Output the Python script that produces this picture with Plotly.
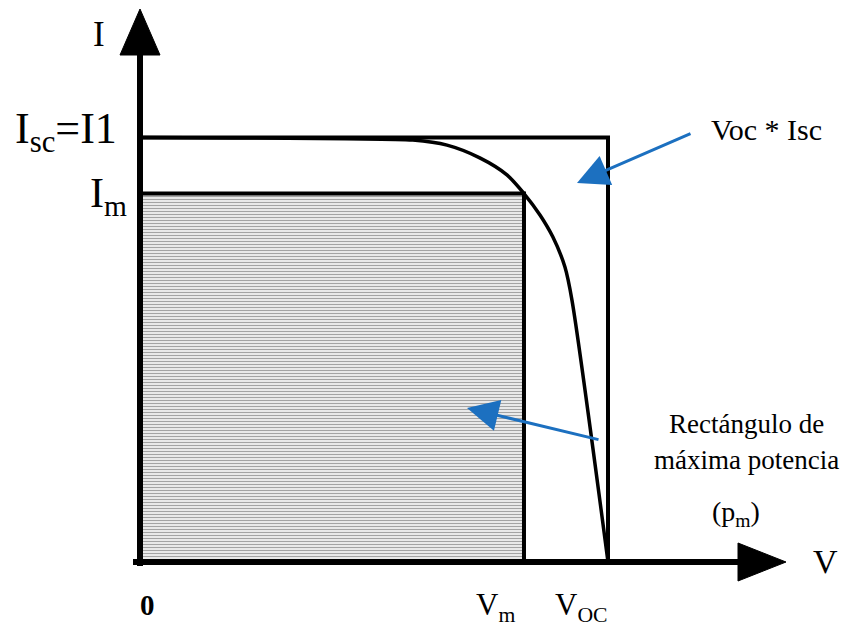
import plotly.graph_objects as go

# Normalised I-V characteristic of a solar cell
V_OC = 1.0
I_SC = 1.0
V_M = 0.8205
I_M = 0.868

v_curve = [0.0, 0.200, 0.440, 0.583, 0.656, 0.726, 0.784, 0.8205, 0.855, 0.882, 0.908, 0.923, 1.0]
i_curve = [1.0, 0.999, 0.997, 0.994, 0.982, 0.952, 0.912, 0.868, 0.817, 0.766, 0.695, 0.617, 0.0]

tick_labels_x = ["0", "V<sub>m</sub>", "V<sub>OC</sub>"]
tick_labels_y = ["I<sub>sc</sub>=I1", "I<sub>m</sub>"]

SERIF = "Liberation Serif, Times New Roman, serif"
BLUE = "#1c70c0"

# pixel scale of the drawing: px per unit along V and I
SX, SY = 468.0, 424.5
X0, Y0 = 140.0, 562.0
W, H = 855, 627


def vx(px):
    return (px - X0) / SX


def iy(py):
    return (Y0 - py) / SY


fig = go.Figure()

# maximum-power rectangle, hatched with horizontal lines
fig.add_trace(go.Scatter(
    x=[0, V_M, V_M, 0, 0], y=[0, 0, I_M, I_M, 0],
    mode="lines", fill="toself", line=dict(color="black", width=4),
    fillcolor="white",
    fillpattern=dict(shape="-", size=3, solidity=0.5, fgcolor="#4a4a4a", bgcolor="white"),
    hoverinfo="skip", showlegend=False,
))

# Voc x Isc rectangle (top and right edges)
fig.add_trace(go.Scatter(
    x=[0, V_OC, V_OC], y=[I_SC, I_SC, 0],
    mode="lines", line=dict(color="black", width=4),
    hoverinfo="skip", showlegend=False,
))

# I-V curve
fig.add_trace(go.Scatter(
    x=v_curve, y=i_curve, mode="lines",
    line=dict(color="black", width=3.5, shape="spline", smoothing=0.8),
    hoverinfo="skip", showlegend=False,
))

# axes with arrowheads
shapes = [
    dict(type="line", x0=0, y0=iy(566), x1=0, y1=iy(52), line=dict(color="black", width=6)),
    dict(type="line", x0=vx(133), y0=0, x1=vx(742), y1=0, line=dict(color="black", width=6)),
    dict(type="path",
         path=f"M {vx(X0 - 20)},{iy(55)} L {vx(X0)},{iy(9)} L {vx(X0 + 20)},{iy(55)} Z",
         fillcolor="black", line=dict(color="black", width=1)),
    dict(type="path",
         path=f"M {vx(738)},{iy(Y0 - 19)} L {vx(786)},{iy(Y0)} L {vx(738)},{iy(Y0 + 19)} Z",
         fillcolor="black", line=dict(color="black", width=1)),
]
for s in shapes:
    s.update(xref="x", yref="y", layer="above")

annotations = [
    # axis names
    dict(x=vx(99), y=iy(34), text="I", font=dict(size=35)),
    dict(x=vx(825), y=iy(561), text="V", font=dict(size=34)),
    # current levels
    dict(x=vx(119), y=iy(131), text=tick_labels_y[0], font=dict(size=44), xanchor="right"),
    dict(x=vx(129), y=iy(196), text=tick_labels_y[1], font=dict(size=42), xanchor="right"),
    # voltage levels
    dict(x=vx(147), y=iy(605), text="<b>" + tick_labels_x[0] + "</b>", font=dict(size=29)),
    dict(x=vx(495), y=iy(607), text=tick_labels_x[1], font=dict(size=31)),
    dict(x=vx(581), y=iy(607), text=tick_labels_x[2], font=dict(size=31)),
    # region labels
    dict(x=vx(766), y=iy(129), text="Voc * Isc", font=dict(size=30)),
    dict(x=vx(746), y=iy(424), text="Rectángulo de", font=dict(size=27)),
    dict(x=vx(746), y=iy(460), text="máxima potencia", font=dict(size=27)),
    dict(x=vx(736), y=iy(513), text="(p<sub>m</sub>)", font=dict(size=28)),
    # blue pointers
    dict(x=vx(577), y=iy(183), ax=vx(692), ay=iy(133), axref="x", ayref="y", text="",
         showarrow=True, arrowhead=2, arrowsize=2.1, arrowwidth=3, arrowcolor=BLUE),
    dict(x=vx(467), y=iy(408), ax=vx(600), ay=iy(440), axref="x", ayref="y", text="",
         showarrow=True, arrowhead=2, arrowsize=2.1, arrowwidth=3, arrowcolor=BLUE),
]
for a in annotations:
    a.setdefault("showarrow", False)
    a.setdefault("xanchor", "center")
    a.setdefault("yanchor", "middle")
    a["xref"] = "x"
    a["yref"] = "y"
    f = a.get("font", {})
    f.setdefault("family", SERIF)
    f.setdefault("color", "black")
    a["font"] = f

fig.update_layout(
    width=W, height=H,
    margin=dict(l=0, r=0, t=0, b=0),
    paper_bgcolor="white", plot_bgcolor="white",
    shapes=shapes, annotations=annotations,
    xaxis=dict(range=[vx(0), vx(W)], visible=False, fixedrange=True),
    yaxis=dict(range=[iy(H), iy(0)], visible=False, fixedrange=True),
    showlegend=False,
)

fig.write_html("out.html")
